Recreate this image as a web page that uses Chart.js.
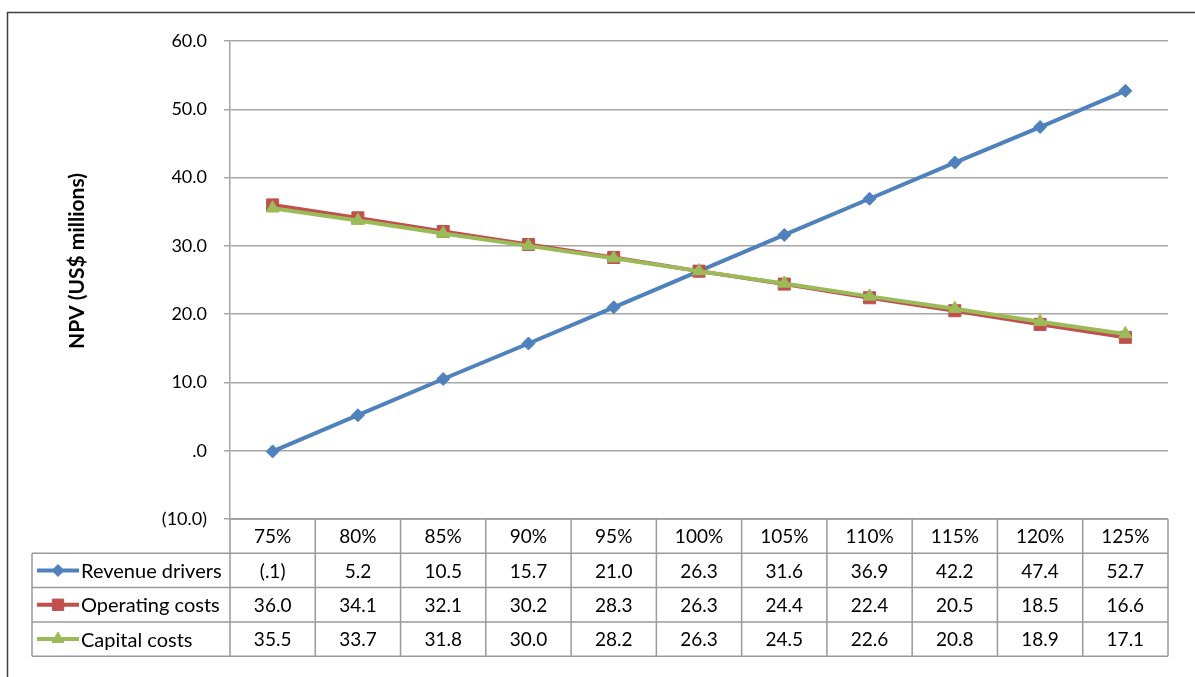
<!DOCTYPE html>
<html>
<head>
<meta charset="utf-8">
<title>NPV sensitivity</title>
<script src="https://cdn.jsdelivr.net/npm/chart.js@4/dist/chart.umd.min.js"></script>
<style>
  html, body { margin: 0; padding: 0; background: #fff; }
  canvas { display: block; }
</style>
</head>
<body>
<canvas id="npv" width="1195" height="677"></canvas>
<script>
// Sensitivity of NPV to each driver, as a percentage of the base case
const categories = ['75%', '80%', '85%', '90%', '95%', '100%', '105%', '110%', '115%', '120%', '125%'];
const revenueDrivers = [-0.1, 5.2, 10.5, 15.7, 21.0, 26.3, 31.6, 36.9, 42.2, 47.4, 52.7];
const operatingCosts = [36.0, 34.1, 32.1, 30.2, 28.3, 26.3, 24.4, 22.4, 20.5, 18.5, 16.6];
const capitalCosts = [35.5, 33.7, 31.8, 30.0, 28.2, 26.3, 24.5, 22.6, 20.8, 18.9, 17.1];
const seriesNames = ['Revenue drivers', 'Operating costs', 'Capital costs'];
const yTickValues = [-10, 0, 10, 20, 30, 40, 50, 60];
const yAxisTitle = 'NPV (US$ millions)';

const FONT = 'Lato, "Open Sans", sans-serif';
const COLORS = ['#4F81BD', '#C0504D', '#9BBB59'];
const MARKERS = ['rectRot', 'rect', 'triangle'];
const MARKER_RADIUS = [6.5, 8.5, 7.5];
const GRID = '#A6A6A6';
const TABLE_LINE = '#9A9A9A';

// Accounting-style number format: ".0", "(.1)", "52.7"
function fmt(v) {
  const a = Math.abs(v);
  let s = a.toFixed(1);
  if (a < 1) s = s.replace(/^0/, '');
  return v < 0 ? '(' + s + ')' : s;
}

const allSeries = [revenueDrivers, operatingCosts, capitalCosts];

// Outer frame of the chart object
const framePlugin = {
  id: 'frame',
  beforeDraw(chart) {
    const ctx = chart.ctx;
    ctx.save();
    ctx.fillStyle = '#fff';
    ctx.fillRect(0, 0, chart.width, chart.height);
    ctx.strokeStyle = '#404040';
    ctx.lineWidth = 1.5;
    ctx.beginPath();
    ctx.moveTo(7.5, chart.height + 2);
    ctx.lineTo(7.5, 12.5);
    ctx.lineTo(chart.width + 2, 12.5);
    ctx.stroke();
    ctx.restore();
  }
};

// Vertical axis title
const yTitlePlugin = {
  id: 'yTitle',
  afterDraw(chart) {
    const ctx = chart.ctx;
    ctx.save();
    ctx.translate(77, 261);
    ctx.rotate(-Math.PI / 2);
    ctx.font = 'bold 21px ' + FONT;
    ctx.fillStyle = '#000';
    ctx.textAlign = 'center';
    ctx.textBaseline = 'middle';
    ctx.fillText(yAxisTitle, 0, 0);
    ctx.restore();
  }
};

// Data table under the plot: category header, legend keys and values
const dataTablePlugin = {
  id: 'dataTable',
  afterDraw(chart) {
    const ctx = chart.ctx;
    const x = chart.scales.x;
    const area = chart.chartArea;
    const n = categories.length;
    const colW = (area.right - area.left) / n;
    const rowH = 34.3;
    const top = area.bottom;
    const keyLeft = 32;
    const rows = [top, top + rowH, top + 2 * rowH, top + 3 * rowH, top + 4 * rowH];

    ctx.save();
    ctx.strokeStyle = TABLE_LINE;
    ctx.lineWidth = 1.5;
    ctx.beginPath();
    // horizontal rules
    ctx.moveTo(area.left, rows[0]);
    ctx.lineTo(area.right, rows[0]);
    for (let r = 1; r < rows.length; r++) {
      ctx.moveTo(keyLeft, rows[r]);
      ctx.lineTo(area.right, rows[r]);
    }
    // vertical rules
    for (let c = 0; c <= n; c++) {
      const xx = area.left + c * colW;
      ctx.moveTo(xx, rows[0]);
      ctx.lineTo(xx, rows[4]);
    }
    ctx.moveTo(keyLeft, rows[1]);
    ctx.lineTo(keyLeft, rows[4]);
    ctx.stroke();

    ctx.font = '19px ' + FONT;
    ctx.fillStyle = '#000';
    ctx.textAlign = 'center';
    ctx.textBaseline = 'middle';
    categories.forEach((c, i) => {
      ctx.fillText(c, x.getPixelForValue(i), rows[0] + rowH / 2 + 1);
    });
    allSeries.forEach((vals, s) => {
      const cy = rows[s + 1] + rowH / 2 + 1;
      vals.forEach((v, i) => {
        ctx.fillText(fmt(v), x.getPixelForValue(i), cy);
      });
    });

    // legend keys
    ctx.font = '20px ' + FONT;
    allSeries.forEach((vals, s) => {
      const cy = rows[s + 1] + rowH / 2;
      ctx.strokeStyle = COLORS[s];
      ctx.lineWidth = 4;
      ctx.beginPath();
      ctx.moveTo(37, cy);
      ctx.lineTo(79, cy);
      ctx.stroke();
      ctx.fillStyle = COLORS[s];
      ctx.lineWidth = 1;
      Chart.helpers.drawPoint(ctx, {
        pointStyle: MARKERS[s],
        radius: MARKER_RADIUS[s] - 0.5,
        rotation: 0,
        borderWidth: 1
      }, 58, cy);
      ctx.fillStyle = '#000';
      ctx.textAlign = 'left';
      ctx.fillText(seriesNames[s], 81, cy + 1);
    });
    ctx.restore();
  }
};

const datasets = allSeries.map((vals, s) => ({
  label: seriesNames[s],
  data: vals,
  borderColor: COLORS[s],
  backgroundColor: COLORS[s],
  borderWidth: 4,
  pointStyle: MARKERS[s],
  pointRadius: MARKER_RADIUS[s],
  pointBorderWidth: 1,
  pointBackgroundColor: COLORS[s],
  pointBorderColor: COLORS[s],
  tension: 0,
  order: 2 - s
}));

new Chart(document.getElementById('npv'), {
  type: 'line',
  data: { labels: categories, datasets },
  options: {
    responsive: false,
    animation: false,
    layout: { padding: { top: 41, right: 27, bottom: 158, left: 0 } },
    plugins: {
      legend: { display: false },
      tooltip: { enabled: false }
    },
    scales: {
      x: {
        type: 'category',
        offset: true,
        display: false
      },
      y: {
        min: -10,
        max: 60,
        afterFit(scale) { scale.width = 230; },
        afterBuildTicks(scale) { scale.ticks = yTickValues.map(v => ({ value: v })); },
        ticks: {
          padding: 17,
          color: '#000',
          font: { family: FONT, size: 18 },
          callback: v => fmt(v)
        },
        grid: {
          color: GRID,
          lineWidth: 1.5,
          tickLength: 6,
          drawTicks: true
        },
        border: { color: GRID, width: 1.5 }
      }
    }
  },
  plugins: [framePlugin, yTitlePlugin, dataTablePlugin]
});
</script>
</body>
</html>
